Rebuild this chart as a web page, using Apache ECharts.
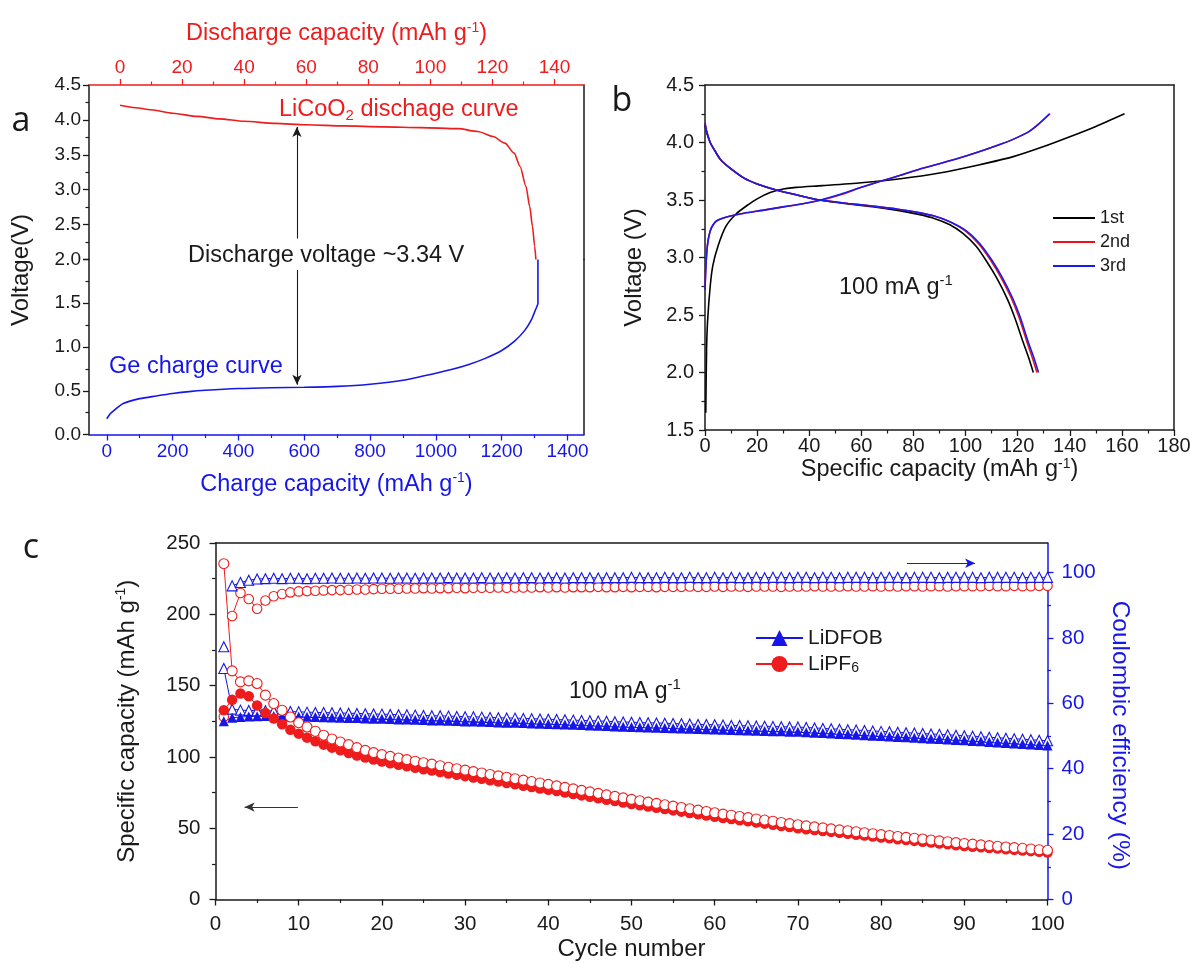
<!DOCTYPE html>
<html>
<head>
<meta charset="utf-8">
<script src="https://cdn.jsdelivr.net/npm/echarts@6/dist/echarts.min.js"></script>
<style>
  html, body { margin: 0; padding: 0; background: #ffffff; }
  #chart { width: 1190px; height: 963px; }
</style>
</head>
<body>
<div id="chart"></div>
<script>
// ---------- Panel a: LiCoO2 cathode discharge vs Ge anode charge ----------
const licoo2Capacity = [0, 5, 10, 17, 25, 32, 40, 50, 60, 72, 85, 97, 109, 115.3, 120.2, 124, 127, 128.9, 130.8, 132, 132.9, 133.6, 134.0];
const licoo2Voltage  = [4.21, 4.175, 4.145, 4.095, 4.05, 4.015, 3.98, 3.95, 3.93, 3.914, 3.9, 3.89, 3.875, 3.833, 3.762, 3.667, 3.524, 3.333, 3.048, 2.762, 2.476, 2.19, 2.0];
const geCapacity = [0, 10, 25, 50, 100, 150, 200, 250, 300, 400, 500, 600, 700, 800, 900, 1000, 1050, 1100, 1150, 1200, 1240, 1270, 1290, 1302, 1310, 1310];
const geVoltage  = [0.18, 0.235, 0.285, 0.354, 0.41, 0.44, 0.468, 0.49, 0.505, 0.525, 0.535, 0.54, 0.55, 0.575, 0.62, 0.70, 0.745, 0.80, 0.87, 0.96, 1.07, 1.19, 1.31, 1.42, 1.50, 2.0];
const dischargeCapTicks = [0, 20, 40, 60, 80, 100, 120, 140];
const chargeCapTicks = [0, 200, 400, 600, 800, 1000, 1200, 1400];

// ---------- Panel b: first three cycles at 100 mA g-1 ----------
const c1ChargeCap = [0.3, 0.6, 1, 2, 3, 5, 8, 12, 16, 20, 25, 30, 35, 45, 60, 75, 90, 105, 118, 130, 140, 150, 161];
const c1ChargeV   = [1.65, 2.2, 2.45, 2.75, 2.93, 3.1, 3.27, 3.38, 3.45, 3.51, 3.565, 3.595, 3.61, 3.625, 3.65, 3.685, 3.735, 3.805, 3.875, 3.965, 4.05, 4.14, 4.25];
const c2ChargeCap = [0, 0.3, 0.7, 1.2, 2, 3, 4.5, 8, 15, 22, 30, 38, 45, 52, 60, 67, 75, 82, 90, 97, 104, 111, 118, 124, 128, 132.5];
const c2ChargeV   = [2.73, 2.9, 3.05, 3.15, 3.23, 3.28, 3.32, 3.35, 3.385, 3.41, 3.44, 3.47, 3.5, 3.545, 3.61, 3.66, 3.715, 3.765, 3.815, 3.86, 3.91, 3.965, 4.025, 4.09, 4.16, 4.25];
const c3ChargeCap = [0, 0.3, 0.7, 1.2, 2, 3, 4.5, 8, 15, 22, 30, 38, 45, 52, 60, 67, 75, 82, 90, 97, 104, 111, 118, 124, 128, 132.2];
const c3ChargeV   = [2.72, 2.9, 3.05, 3.15, 3.23, 3.28, 3.32, 3.35, 3.385, 3.41, 3.44, 3.47, 3.505, 3.55, 3.61, 3.66, 3.715, 3.765, 3.815, 3.86, 3.91, 3.965, 4.025, 4.09, 4.16, 4.25];
const c1DischargeCap = [0, 0.5, 1, 2, 4, 6, 10, 15, 20, 27, 35, 44, 55, 65, 74, 82, 88, 94, 99, 104, 108, 112, 116, 119, 122, 124.2, 126];
const c1DischargeV   = [4.15, 4.1, 4.06, 4.0, 3.92, 3.85, 3.77, 3.69, 3.64, 3.59, 3.545, 3.5, 3.465, 3.44, 3.41, 3.375, 3.34, 3.285, 3.21, 3.1, 2.97, 2.82, 2.64, 2.47, 2.27, 2.13, 2.0];
const c2DischargeCap = [0, 0.5, 1, 2, 4, 6, 10, 15, 20, 27, 35, 44, 55, 65, 74, 82, 88, 94, 100, 105, 109.5, 113.5, 117.5, 120.5, 123.5, 125.6, 127.4];
const c2DischargeV   = [4.17, 4.11, 4.07, 4.0, 3.92, 3.85, 3.77, 3.69, 3.64, 3.59, 3.545, 3.5, 3.47, 3.445, 3.42, 3.39, 3.36, 3.31, 3.23, 3.12, 2.98, 2.83, 2.65, 2.48, 2.27, 2.13, 2.0];
const c3DischargeCap = [0, 0.5, 1, 2, 4, 6, 10, 15, 20, 27, 35, 44, 55, 65, 74, 82, 88, 94, 100.4, 105.5, 110, 114, 118, 121, 124, 126.2, 128];
const c3DischargeV   = [4.17, 4.11, 4.07, 4.0, 3.92, 3.85, 3.77, 3.69, 3.64, 3.59, 3.545, 3.5, 3.47, 3.445, 3.42, 3.39, 3.36, 3.31, 3.23, 3.12, 2.98, 2.83, 2.65, 2.48, 2.27, 2.13, 2.0];

// ---------- Panel c: cycling of LiDFOB and LiPF6 electrolytes ----------
const cycles = Array.from({ length: 100 }, (_, i) => i + 1);
const lidfobDischarge = [
  125.0, 127.5, 128.0, 128.3, 128.5, 128.6, 128.6, 128.5, 128.4, 128.3,
  128.1, 127.9, 127.8, 127.6, 127.5, 127.3, 127.2, 127.0, 126.8, 126.7,
  126.5, 126.3, 126.2, 126.0, 125.8, 125.6, 125.5, 125.3, 125.1, 124.9,
  124.8, 124.6, 124.4, 124.2, 124.0, 123.9, 123.7, 123.5, 123.3, 123.1,
  122.9, 122.7, 122.5, 122.3, 122.1, 121.9, 121.7, 121.4, 121.2, 121.0,
  120.8, 120.6, 120.5, 120.3, 120.1, 119.9, 119.7, 119.5, 119.4, 119.2,
  119.0, 118.8, 118.7, 118.5, 118.3, 118.2, 118.0, 117.9, 117.7, 117.6,
  117.3, 117.0, 116.7, 116.4, 116.1, 115.8, 115.5, 115.2, 114.9, 114.6,
  114.3, 114.0, 113.7, 113.4, 113.1, 112.8, 112.5, 112.2, 111.9, 111.6,
  111.2, 110.9, 110.5, 110.1, 109.8, 109.4, 109.1, 108.7, 108.4, 108.0
];
const lidfobCharge = [
  162.0, 133.5, 132.8, 132.6, 132.4, 132.3, 132.2, 132.0, 131.8, 131.6,
  131.4, 131.2, 131.1, 130.9, 130.8, 130.6, 130.5, 130.3, 130.1, 130.0,
  129.8, 129.6, 129.5, 129.3, 129.1, 128.9, 128.8, 128.6, 128.4, 128.2,
  128.1, 127.9, 127.7, 127.5, 127.3, 127.2, 127.0, 126.8, 126.6, 126.4,
  126.2, 126.0, 125.8, 125.6, 125.4, 125.2, 125.0, 124.7, 124.5, 124.3,
  124.1, 123.9, 123.8, 123.6, 123.4, 123.2, 123.0, 122.8, 122.7, 122.5,
  122.3, 122.1, 122.0, 121.8, 121.6, 121.5, 121.3, 121.2, 121.0, 120.9,
  120.6, 120.3, 120.0, 119.7, 119.4, 119.1, 118.8, 118.5, 118.2, 117.9,
  117.6, 117.3, 117.0, 116.7, 116.4, 116.1, 115.8, 115.5, 115.2, 114.9,
  114.5, 114.2, 113.8, 113.4, 113.1, 112.7, 112.4, 112.0, 111.7, 111.3
];
const lipf6Discharge = [
  132.7, 140.0, 144.5, 142.5, 136.0, 130.8, 126.9, 122.9, 119.0, 116.3,
  113.5, 111.0, 108.6, 106.5, 104.6, 102.7, 101.0, 99.5, 98.1, 96.7,
  95.6, 94.5, 93.4, 92.4, 91.4, 90.4, 89.4, 88.4, 87.4, 86.5,
  85.5, 84.6, 83.6, 82.7, 81.7, 80.8, 79.8, 78.9, 77.9, 77.0,
  76.0, 75.0, 74.0, 73.0, 72.0, 71.0, 70.0, 69.0, 68.0, 67.0,
  66.1, 65.2, 64.3, 63.4, 62.5, 61.6, 60.7, 59.8, 58.9, 58.0,
  57.2, 56.4, 55.6, 54.8, 54.0, 53.2, 52.4, 51.6, 50.8, 50.0,
  49.3, 48.7, 48.0, 47.4, 46.7, 46.1, 45.4, 44.8, 44.1, 43.5,
  42.9, 42.3, 41.7, 41.1, 40.5, 39.9, 39.3, 38.7, 38.1, 37.5,
  37.0, 36.6, 36.1, 35.7, 35.2, 34.8, 34.3, 33.9, 33.4, 33.0
];
const lipf6Charge = [
  235.5, 160.3, 152.6, 153.3, 151.5, 143.3, 137.4, 132.7, 128.0, 124.0,
  121.0, 118.0, 115.2, 112.6, 110.5, 108.6, 106.5, 104.6, 103.0, 101.6,
  100.4, 99.2, 98.1, 97.0, 95.9, 94.9, 93.8, 92.7, 91.7, 90.7,
  89.7, 88.7, 87.7, 86.7, 85.7, 84.7, 83.7, 82.7, 81.7, 80.7,
  79.7, 78.6, 77.6, 76.5, 75.5, 74.4, 73.4, 72.3, 71.3, 70.2,
  69.3, 68.3, 67.4, 66.4, 65.5, 64.5, 63.6, 62.7, 61.7, 60.8,
  59.9, 59.1, 58.2, 57.4, 56.5, 55.7, 54.9, 54.0, 53.2, 52.4,
  51.6, 50.9, 50.2, 49.5, 48.8, 48.2, 47.5, 46.8, 46.1, 45.5,
  44.9, 44.2, 43.6, 43.0, 42.4, 41.7, 41.1, 40.5, 39.9, 39.3,
  38.8, 38.3, 37.8, 37.3, 36.8, 36.4, 35.9, 35.4, 34.9, 34.5
];
const lidfobCE = [
  77.3, 95.9, 96.9, 97.6, 98.0, 98.1, 98.2, 98.1, 98.2, 98.2,
  98.1, 98.2, 98.2, 98.3, 98.2, 98.2, 98.3, 98.2, 98.3, 98.3,
  98.2, 98.3, 98.3, 98.2, 98.3, 98.3, 98.3, 98.4, 98.3, 98.3,
  98.3, 98.4, 98.3, 98.3, 98.4, 98.3, 98.4, 98.4, 98.3, 98.4,
  98.4, 98.3, 98.4, 98.4, 98.4, 98.3, 98.4, 98.4, 98.4, 98.5,
  98.4, 98.4, 98.4, 98.5, 98.4, 98.4, 98.5, 98.4, 98.4, 98.5,
  98.4, 98.5, 98.4, 98.4, 98.5, 98.4, 98.5, 98.5, 98.4, 98.5,
  98.5, 98.4, 98.5, 98.5, 98.4, 98.5, 98.5, 98.5, 98.4, 98.5,
  98.5, 98.5, 98.4, 98.5, 98.5, 98.5, 98.4, 98.5, 98.5, 98.5,
  98.5, 98.4, 98.5, 98.5, 98.5, 98.5, 98.4, 98.5, 98.5, 98.5
];
const lipf6CE = [
  55.9, 86.7, 93.7, 91.9, 88.9, 91.4, 92.7, 93.4, 93.9, 94.2,
  94.3, 94.4, 94.5, 94.6, 94.6, 94.7, 94.8, 94.8, 94.9, 95.0,
  95.0, 95.0, 95.1, 95.1, 95.2, 95.1, 95.2, 95.2, 95.3, 95.2,
  95.3, 95.3, 95.3, 95.4, 95.3, 95.4, 95.4, 95.4, 95.5, 95.4,
  95.5, 95.4, 95.5, 95.5, 95.5, 95.6, 95.5, 95.5, 95.6, 95.5,
  95.6, 95.6, 95.5, 95.6, 95.6, 95.6, 95.7, 95.6, 95.6, 95.7,
  95.6, 95.7, 95.7, 95.6, 95.7, 95.7, 95.7, 95.6, 95.7, 95.7,
  95.7, 95.8, 95.7, 95.7, 95.7, 95.8, 95.7, 95.7, 95.8, 95.7,
  95.8, 95.7, 95.8, 95.8, 95.7, 95.8, 95.8, 95.7, 95.8, 95.8,
  95.8, 95.8, 95.9, 95.8, 95.8, 95.9, 95.8, 95.8, 95.9, 95.9
];
const ceTicks = [0, 20, 40, 60, 80, 100];

// ---------- styling ----------
const RED = '#ee1c1c';
const BLUE = '#1616e8';
const INK = '#1a1a1a';
const FONT = '"Liberation Sans", Arial, sans-serif';
const LETTER_FONT = '"Open Sans", "Liberation Sans", sans-serif';

const pairs = (xs, ys) => xs.map((x, i) => [x, ys[i]]);
// cycle 1 stands alone in the efficiency traces; the joined line starts at cycle 2
const ceTrace = (values) => {
  const d = pairs(cycles, values);
  d.splice(1, 0, [1.5, '-']);
  return d;
};

function supRich(color, size) {
  return {
    sup: { fontSize: size, lineHeight: size, verticalAlign: 'top', color: color, fontFamily: FONT },
    sub: { fontSize: size, lineHeight: size, verticalAlign: 'bottom', color: color, fontFamily: FONT }
  };
}

const plainNumber = (v) => String(v);
const oneDecimal = (v) => v.toFixed(1);

// axis with outward ticks, optional minor ticks and labels
function axis(o) {
  const color = o.color || INK;
  const a = {
    type: 'value',
    gridIndex: o.grid,
    position: o.position,
    min: o.min,
    max: o.max,
    axisLine: { show: true, onZero: false, lineStyle: { color: color, width: 1.5 } },
    axisTick: { show: true, inside: false, length: 6, lineStyle: { color: color, width: 1.3 } },
    minorTick: { show: true, splitNumber: 2, length: 3.5, lineStyle: { color: color, width: 1.2 } },
    axisLabel: {
      show: true, color: color, fontSize: o.fontSize || 19, fontFamily: FONT,
      margin: o.margin == null ? 8 : o.margin,
      formatter: o.formatter || plainNumber
    },
    splitLine: { show: false },
    minorSplitLine: { show: false }
  };
  if (o.interval != null) a.interval = o.interval;
  if (o.splitNumber != null) a.splitNumber = o.splitNumber;
  if (o.custom) {
    a.axisTick.customValues = o.custom;
    a.axisLabel.customValues = o.custom;
  }
  if (o.hideMin) a.axisLabel.showMinLabel = false;
  if (o.name) {
    a.name = o.name;
    a.nameLocation = 'middle';
    a.nameGap = o.nameGap;
    if (o.nameRotate != null) a.nameRotate = o.nameRotate;
    a.nameTextStyle = {
      color: color, fontSize: o.nameSize || 23.5, fontFamily: FONT, lineHeight: 26,
      padding: o.namePadding || 0,
      rich: supRich(color, 14)
    };
  }
  return a;
}
// plain frame edge: just the axis line
function frame(grid, position, min, max) {
  return {
    type: 'value', gridIndex: grid, position: position, min: min, max: max,
    axisLine: { show: true, onZero: false, lineStyle: { color: INK, width: 1.5 } },
    axisTick: { show: false }, axisLabel: { show: false }, splitLine: { show: false }
  };
}

function curve(name, xs, ys, color, xi, yi, extra) {
  return Object.assign({
    name: name, type: 'line', xAxisIndex: xi, yAxisIndex: yi,
    data: pairs(xs, ys), symbol: 'none', smooth: 0.25,
    lineStyle: { color: color, width: 1.6 }, itemStyle: { color: color },
    emphasis: { disabled: true }, silent: true, animation: false
  }, extra || {});
}

function arrow(coordFrom, coordTo, color) {
  return {
    silent: true, animation: false,
    symbol: ['none', 'arrow'], symbolSize: [7, 10],
    lineStyle: { color: color, width: 1.1, type: 'solid' },
    label: { show: false }, emphasis: { disabled: true },
    data: [[{ coord: coordFrom }, { coord: coordTo }]]
  };
}

function cycleSeries(name, data, opts) {
  return {
    name: name, type: 'line', xAxisIndex: 4, yAxisIndex: opts.yi,
    data: data, symbol: opts.symbol, symbolSize: opts.size, showAllSymbol: true,
    lineStyle: { color: opts.color, width: 1 },
    itemStyle: opts.open
      ? { color: '#ffffff', borderColor: opts.color, borderWidth: 1.1 }
      : { color: opts.color, borderColor: opts.color, borderWidth: 0 },
    emphasis: { disabled: true }, silent: true, animation: false,
    markLine: opts.markLine
  };
}

const chart = echarts.init(document.getElementById('chart'), null, { renderer: 'canvas' });

const option = {
  backgroundColor: '#ffffff',
  animation: false,
  textStyle: { fontFamily: FONT },
  grid: [
    { left: 89, top: 85, width: 495, height: 174.5, containLabel: false, outerBoundsMode: 'none' },
    { left: 89, top: 259.5, width: 495, height: 175, containLabel: false, outerBoundsMode: 'none' },
    { left: 705, top: 85, width: 469, height: 345, containLabel: false, outerBoundsMode: 'none' },
    { left: 215.5, top: 543, width: 832, height: 356.5, containLabel: false, outerBoundsMode: 'none' }
  ],
  xAxis: [
    axis({ grid: 0, position: 'top', min: -10, max: 149.5, splitNumber: 8, custom: dischargeCapTicks,
      color: RED, fontSize: 19, margin: 8,
      name: 'Discharge capacity (mAh g{sup|-1})', nameGap: 38 }),
    axis({ grid: 1, position: 'bottom', min: -54, max: 1450, splitNumber: 7, custom: chargeCapTicks,
      color: BLUE, fontSize: 19, margin: 8,
      name: 'Charge capacity (mAh g{sup|-1})', nameGap: 37 }),
    axis({ grid: 2, position: 'bottom', min: 0, max: 180, interval: 20, fontSize: 20, margin: 6,
      name: 'Specific capacity (mAh g{sup|-1})', nameGap: 25 }),
    frame(2, 'top', 0, 180),
    axis({ grid: 3, position: 'bottom', min: 0, max: 100, interval: 10, fontSize: 20.5, margin: 14,
      name: 'Cycle number', nameGap: 37, nameSize: 24 }),
    frame(3, 'top', 0, 100)
  ],
  yAxis: [
    axis({ grid: 0, position: 'left', min: 2, max: 4.5, interval: 0.5, fontSize: 19, margin: 8,
      formatter: oneDecimal, hideMin: true }),
    frame(0, 'right', 2, 4.5),
    axis({ grid: 1, position: 'left', min: 0, max: 2, interval: 0.5, fontSize: 19, margin: 8,
      formatter: oneDecimal }),
    frame(1, 'right', 0, 2),
    axis({ grid: 2, position: 'left', min: 1.5, max: 4.5, interval: 0.5, fontSize: 20, margin: 11,
      formatter: oneDecimal, name: 'Voltage (V)', nameGap: 58, nameSize: 24, namePadding: [0, 20, 0, 0] }),
    frame(2, 'right', 1.5, 4.5),
    axis({ grid: 3, position: 'left', min: 0, max: 250, interval: 50, fontSize: 20.5, margin: 15,
      name: 'Specific capacity (mAh g{sup|-1})', nameGap: 75, nameSize: 24 }),
    axis({ grid: 3, position: 'right', min: 0, max: 109, splitNumber: 5, custom: ceTicks,
      color: BLUE, fontSize: 20.5, margin: 14,
      name: 'Coulombic efficiency (%)', nameGap: 56, nameRotate: -90, nameSize: 24.5, namePadding: [0, 0, 0, 28] })
  ],
  legend: [
    {
      data: ['1st', '2nd', '3rd'], orient: 'vertical', left: 1053, top: 209, padding: 0,
      icon: 'rect', itemWidth: 42, itemHeight: 2, itemGap: 6, selectedMode: false,
      textStyle: { fontSize: 18, color: INK, fontFamily: FONT }
    },
    {
      data: ['LiDFOB', 'LiPF6'], orient: 'vertical', left: 755, top: 627, padding: 0,
      itemWidth: 47, itemHeight: 20, itemGap: 4, selectedMode: false,
      formatter: (n) => (n === 'LiPF6' ? 'LiPF{sub|6}' : n),
      textStyle: { fontSize: 21, color: INK, fontFamily: FONT, lineHeight: 22, rich: supRich(INK, 14) }
    }
  ],
  series: [
    // panel a
    curve('LiCoO2', licoo2Capacity, licoo2Voltage, RED, 0, 0, {
      smoothMonotone: 'x',
      markLine: arrow([57, 2.3], [57, 3.9], INK)
    }),
    curve('Ge', geCapacity, geVoltage, BLUE, 1, 2, {
      markLine: arrow([578, 1.88], [578, 0.57], INK)
    }),
    // panel b
    curve('1st', c1ChargeCap, c1ChargeV, '#000000', 2, 4),
    curve('1st', c1DischargeCap, c1DischargeV, '#000000', 2, 4),
    curve('2nd', c2ChargeCap, c2ChargeV, '#e8141c', 2, 4),
    curve('2nd', c2DischargeCap, c2DischargeV, '#e8141c', 2, 4),
    curve('3rd', c3ChargeCap, c3ChargeV, '#1a1aee', 2, 4),
    curve('3rd', c3DischargeCap, c3DischargeV, '#1a1aee', 2, 4),
    // panel c: coulombic efficiency (right axis)
    cycleSeries('LiPF6 CE', ceTrace(lipf6CE), { yi: 7, symbol: 'circle', size: 9.5, color: RED, open: true }),
    cycleSeries('LiDFOB CE', ceTrace(lidfobCE), { yi: 7, symbol: 'triangle', size: 10, color: BLUE, open: true,
      markLine: arrow([83.1, 102.8], [91.3, 102.8], BLUE) }),
    // panel c: capacities (left axis)
    cycleSeries('LiDFOB charge', pairs(cycles, lidfobCharge), { yi: 6, symbol: 'triangle', size: 10, color: BLUE, open: true }),
    cycleSeries('LiDFOB', pairs(cycles, lidfobDischarge), { yi: 6, symbol: 'triangle', size: 10, color: BLUE, open: false }),
    cycleSeries('LiPF6', pairs(cycles, lipf6Discharge), { yi: 6, symbol: 'circle', size: 10.5, color: RED, open: false,
      markLine: arrow([9.9, 64.8], [3.5, 64.8], '#333333') }),
    cycleSeries('LiPF6 charge', pairs(cycles, lipf6Charge), { yi: 6, symbol: 'circle', size: 10, color: RED, open: true })
  ],
  graphic: [
    { type: 'text', x: 21, y: 121, silent: true,
      style: { text: 'a', font: '34px ' + LETTER_FONT, fill: INK, align: 'center', verticalAlign: 'middle' } },
    { type: 'text', x: 622, y: 101, silent: true,
      style: { text: 'b', font: '34px ' + LETTER_FONT, fill: INK, align: 'center', verticalAlign: 'middle' } },
    { type: 'text', x: 31, y: 548, silent: true,
      style: { text: 'c', font: '34px ' + LETTER_FONT, fill: INK, align: 'center', verticalAlign: 'middle' } },
    { type: 'text', x: 21, y: 270, rotation: Math.PI / 2, silent: true,
      style: { text: 'Voltage(V)', font: '24px ' + FONT, fill: INK, align: 'center', verticalAlign: 'middle' } },
    { type: 'text', x: 279, y: 110, silent: true,
      style: { text: 'LiCoO{sub|2} dischage curve', font: '23.5px ' + FONT, fill: RED, lineHeight: 26,
        align: 'left', verticalAlign: 'middle', rich: supRich(RED, 15) } },
    { type: 'text', x: 188, y: 256, silent: true,
      style: { text: 'Discharge voltage ~3.34 V', font: '23.5px ' + FONT, fill: INK, align: 'left', verticalAlign: 'middle' } },
    { type: 'text', x: 109, y: 367, silent: true,
      style: { text: 'Ge charge curve', font: '23.5px ' + FONT, fill: BLUE, align: 'left', verticalAlign: 'middle' } },
    { type: 'text', x: 839, y: 288, silent: true,
      style: { text: '100 mA g{sup|-1}', font: '23.5px ' + FONT, fill: INK, lineHeight: 30,
        align: 'left', verticalAlign: 'middle', rich: supRich(INK, 15) } },
    { type: 'text', x: 569, y: 692, silent: true,
      style: { text: '100 mA g{sup|-1}', font: '23px ' + FONT, fill: INK, lineHeight: 30,
        align: 'left', verticalAlign: 'middle', rich: supRich(INK, 15) } }
  ]
};

chart.setOption(option);
</script>
</body>
</html>
